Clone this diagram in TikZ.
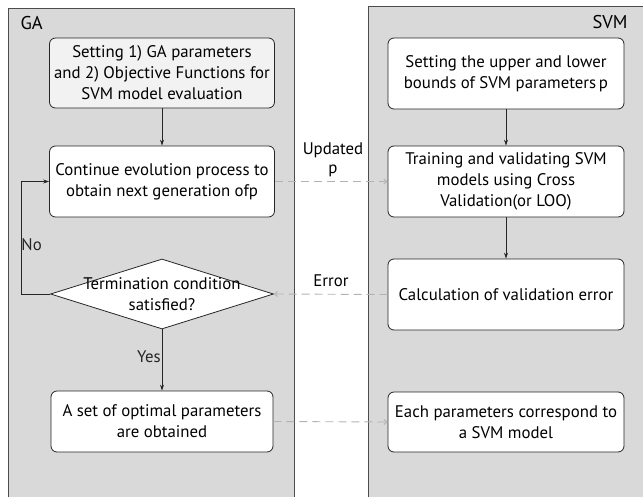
\documentclass[tikz,border=0pt]{standalone}
\usepackage{fontspec}
\setmainfont{PT Sans}
\usetikzlibrary{shapes.geometric,arrows.meta}

\begin{document}
\begin{tikzpicture}[
  x=1pt, y=-1pt,
  every node/.style={font=\fontsize{16.8}{21}\selectfont},
  panel/.style={draw=black!70, fill=black!15, line width=0.8pt},
  box/.style={draw=black!85, fill=white, rounded corners=6pt, align=center, line width=0.8pt, inner sep=0pt},
  dec/.style={diamond, draw=black!85, fill=white, line width=0.8pt, inner sep=0pt},
  arr/.style={-{Stealth[length=6pt,width=4pt]}, black!85, line width=0.7pt},
  upd/.style={-{Straight Barb[length=3pt,width=5pt]}, black!30, dashed, dash pattern=on 8pt off 5pt, line width=0.9pt},
  lbl/.style={align=center, inner sep=1pt}
]
\useasboundingbox (0,0) rectangle (643,496);

% Columns
\def\GAx{162}
\def\Sx{506}

% Panels
\begin{scope}
\clip (0,0) rectangle (643,496);
\draw[panel] (8,8) rectangle (294,520);
\draw[panel] (368,6) rectangle (680,520);
\end{scope}
\node[font=\fontsize{18.5}{20}\selectfont, anchor=west] (ga) at (17,23) {GA};
\node[font=\fontsize{18.5}{20}\selectfont, anchor=east] (svm) at (631,22) {SVM};

% GA side
\node[box, fill=black!5, minimum width=225, minimum height=70] (init) at (\GAx,73)
  {Setting 1) GA parameters\\and 2) Objective Functions for\\SVM model evaluation};
\node[box, minimum width=225, minimum height=71] (evol) at (\GAx,181.5)
  {Continue evolution process to\\obtain next generation ofp};
\node[dec, minimum width=223, minimum height=70,
  label={[align=center, font=\fontsize{16.8}{21}\selectfont]center:Termination condition\\satisfied?}] (term) at (\GAx,294) {};
\node[box, minimum width=222, minimum height=61] (opt) at (\GAx,421.5)
  {A set of optimal parameters\\are obtained};

% SVM side
\node[box, minimum width=236, minimum height=71] (bnd) at (\Sx,73.5)
  {Setting the upper and lower\\bounds of SVM parameters\,p};
\node[box, minimum width=236, minimum height=71] (cv) at (\Sx,181.5)
  {Training and validating SVM\\models using Cross\\Validation(or LOO)};
\node[box, minimum width=236, minimum height=71] (err) at (\Sx,294.5)
  {Calculation of validation error};
\node[box, minimum width=236, minimum height=60] (mdl) at (\Sx,422)
  {Each parameters correspond to\\a SVM model};

% Flow inside GA
\draw[arr] (init) -- (evol);
\draw[arr] (term) -- node[lbl, left, pos=0.45] {Yes} (opt);
\draw[arr] (term.west) -- ++(-29,0) |- node[lbl, pos=0.22, anchor=west, xshift=-1pt] {No} (evol.west);

% Flow inside SVM
\draw[arr] (bnd) -- (cv);
\draw[arr] (cv) -- (err);

% Between the two
\draw[upd] (evol.east) -- (cv.west);
\node[lbl, font=\fontsize{16.8}{19}\selectfont] (updp) at (333,160) {Updated\\p};
\draw[upd] (err.west) -- (term.east);
\node[lbl] (errl) at (331,281) {Error};
\draw[upd] (opt.east) -- (mdl.west);

\end{tikzpicture}
\end{document}
